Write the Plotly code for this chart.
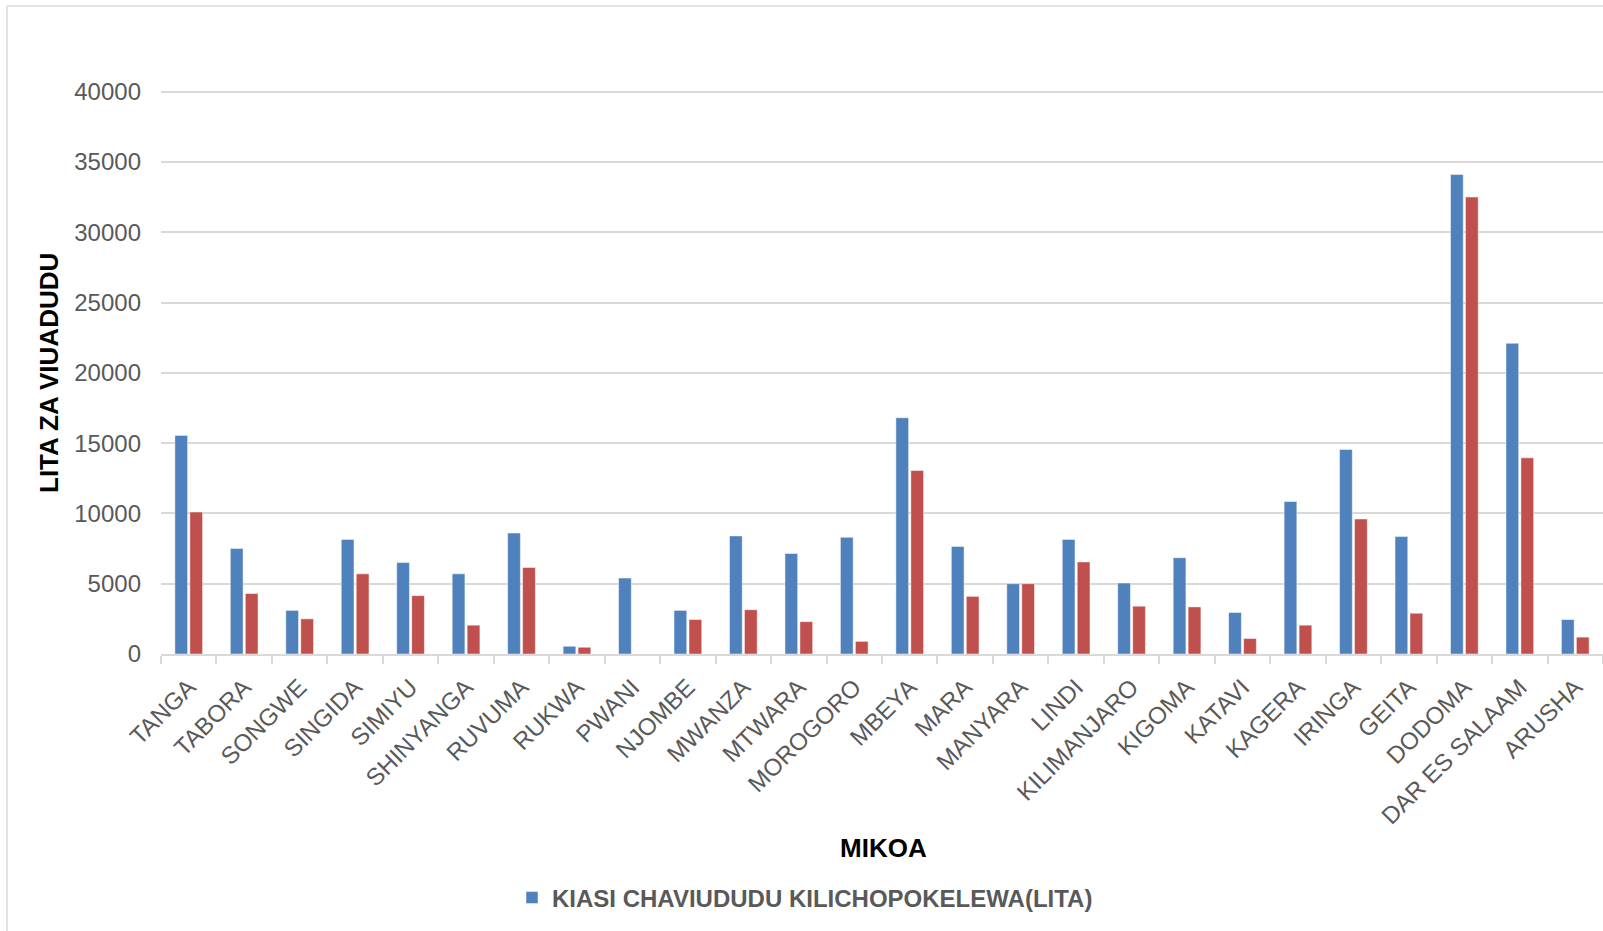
import plotly.graph_objects as go

mikoa = ["TANGA", "TABORA", "SONGWE", "SINGIDA", "SIMIYU", "SHINYANGA", "RUVUMA",
         "RUKWA", "PWANI", "NJOMBE", "MWANZA", "MTWARA", "MOROGORO", "MBEYA", "MARA",
         "MANYARA", "LINDI", "KILIMANJARO", "KIGOMA", "KATAVI", "KAGERA", "IRINGA",
         "GEITA", "DODOMA", "DAR ES SALAAM", "ARUSHA"]

kilichopokelewa = [15550, 7500, 3100, 8150, 6500, 5700, 8600,
                   550, 5400, 3100, 8400, 7150, 8300, 16800, 7650,
                   5000, 8150, 5050, 6850, 2950, 10850, 14550,
                   8350, 34100, 22100, 2450]

kilichotumika = [10100, 4300, 2500, 5700, 4150, 2050, 6150,
                 480, 0, 2450, 3150, 2300, 900, 13050, 4100,
                 5000, 6550, 3400, 3350, 1100, 2050, 9600,
                 2900, 32500, 13950, 1200]

y_ticks = [0, 5000, 10000, 15000, 20000, 25000, 30000, 35000, 40000]

W, H = 1603, 931
L, R, T, B = 161, 0, 86, 277
pw, ph = W - L - R, H - T - B

def px_x(x):
    return (x - L) / pw

def px_y(y):
    return (H - B - y) / ph

FONT = "Liberation Sans, Arial, sans-serif"

fig = go.Figure()
fig.add_trace(go.Bar(
    x=mikoa, y=kilichopokelewa, name="KIASI CHAVIUDUDU KILICHOPOKELEWA(LITA)",
    marker=dict(color="#4F81BD", line=dict(color="rgba(255,255,255,0.6)", width=0.8)),
))
fig.add_trace(go.Bar(
    x=mikoa, y=kilichotumika, name="KIASI CHAVIUDUDU KILICHOTUMIKA(LITA)",
    marker=dict(color="#C0504D", line=dict(color="rgba(255,255,255,0.6)", width=0.8)),
    showlegend=False,
))

fig.update_layout(
    width=W, height=H,
    margin=dict(l=L, r=R, t=T, b=B, autoexpand=False),
    paper_bgcolor="white", plot_bgcolor="white",
    barmode="group", bargap=0.46, bargroupgap=0.15,
    font=dict(family=FONT, color="#595959"),
    showlegend=True,
    legend=dict(
        orientation="h", x=px_x(512), xanchor="left", y=px_y(898), yanchor="middle",
        font=dict(family=FONT, size=24, color="#595959", weight="bold"),
        bgcolor="rgba(0,0,0,0)",
    ),
    xaxis=dict(
        type="category", tickangle=-45, tickfont=dict(size=24, color="#595959"),
        showline=True, linecolor="#d9d9d9", linewidth=1.5,
        ticks="outside", tickson="boundaries", ticklen=8, tickcolor="#d9d9d9", tickwidth=1.5,
        ticklabelstandoff=8,
        showgrid=False, fixedrange=True,
    ),
    yaxis=dict(
        range=[0, 40400], tickvals=y_ticks, tickformat="d", tickfont=dict(size=24, color="#595959"),
        showgrid=True, gridcolor="#d9d9d9", gridwidth=1.5, zeroline=False,
        ticks="", ticklabelstandoff=19, showline=False, fixedrange=True,
    ),
    annotations=[
        dict(text="<b>LITA ZA VIUADUDU</b>", textangle=-90, xref="paper", yref="paper",
             x=px_x(49), y=px_y(373), xanchor="center", yanchor="middle", showarrow=False,
             font=dict(family=FONT, size=26, color="black")),
        dict(text="<b>MIKOA</b>", xref="paper", yref="paper",
             x=px_x(883), y=px_y(848), xanchor="center", yanchor="middle", showarrow=False,
             font=dict(family=FONT, size=26, color="black")),
    ],
    shapes=[
        dict(type="line", xref="paper", yref="paper", x0=px_x(7), x1=px_x(W + 5),
             y0=px_y(6), y1=px_y(6), line=dict(color="#d9d9d9", width=1.5)),
        dict(type="line", xref="paper", yref="paper", x0=px_x(7), x1=px_x(7),
             y0=px_y(6), y1=px_y(H + 5), line=dict(color="#d9d9d9", width=1.5)),
    ],
)

fig.write_html("out.html", config={"displayModeBar": False},
               post_script="document.body.style.margin='0';")
